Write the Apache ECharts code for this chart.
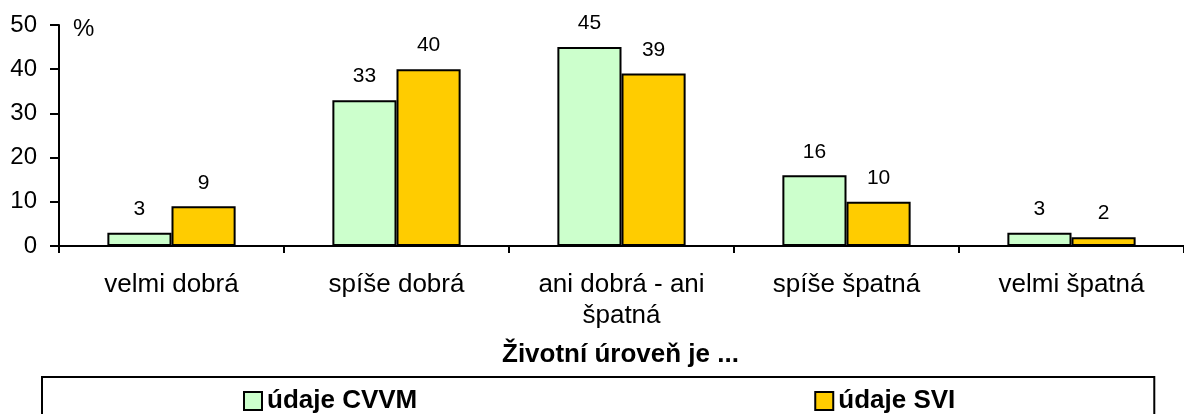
<!DOCTYPE html>
<html>
<head>
<meta charset="utf-8">
<script src="https://cdn.jsdelivr.net/npm/echarts@6/dist/echarts.min.js"></script>
<style>
  html, body { margin: 0; padding: 0; background: #fff; }
  #chart { width: 1184px; height: 414px; }
</style>
</head>
<body>
<div id="chart"></div>
<script>
// data
const categories = ['velmi dobrá', 'spíše dobrá', 'ani dobrá - ani\nšpatná', 'spíše špatná', 'velmi špatná'];
const cvvm = [3, 33, 45, 16, 3];
const svi = [9, 40, 39, 10, 2];
const seriesNames = ['údaje CVVM', 'údaje SVI'];

const font = 'Liberation Sans, Arial, sans-serif';

const barLabel = {
  show: true,
  position: 'top',
  distance: 13,
  color: '#000',
  fontSize: 21,
  fontFamily: font
};

const option = {
  animation: false,
  textStyle: { fontFamily: font, color: '#000' },
  title: {
    text: 'Životní úroveň je ...',
    left: 502,
    top: 342,
    padding: 0,
    textStyle: { fontSize: 26, fontWeight: 'bold', color: '#000', fontFamily: font }
  },
  legend: {
    left: 42,
    top: 377,
    orient: 'horizontal',
    padding: [11, 199, 20, 201],
    itemGap: 397,
    itemWidth: 18,
    itemHeight: 18,
    icon: 'rect',
    borderColor: '#000',
    borderWidth: 2,
    textStyle: { fontSize: 26, fontWeight: 'bold', color: '#000', fontFamily: font },
    data: seriesNames
  },
  grid: {
    left: 59,
    top: 25,
    width: 1131,
    bottom: 168,
    containLabel: false
  },
  xAxis: {
    type: 'category',
    data: categories,
    axisLine: { lineStyle: { color: '#000', width: 2 } },
    axisTick: { show: true, length: 7, lineStyle: { color: '#000', width: 2 } },
    axisLabel: {
      color: '#000',
      fontSize: 26,
      lineHeight: 31,
      margin: 23,
      fontFamily: font,
      interval: 0
    },
    splitLine: { show: false }
  },
  yAxis: {
    type: 'value',
    min: 0,
    max: 50,
    interval: 10,
    name: '%',
    nameLocation: 'end',
    nameGap: -4,
    nameTextStyle: {
      color: '#000',
      fontSize: 24,
      fontFamily: font,
      align: 'left',
      verticalAlign: 'middle',
      padding: [0, 0, 0, 14]
    },
    axisLine: { show: true, lineStyle: { color: '#000', width: 2 } },
    axisTick: { show: true, length: 9, lineStyle: { color: '#000', width: 2 } },
    axisLabel: { color: '#000', fontSize: 24, margin: 22, fontFamily: font },
    splitLine: { show: false }
  },
  series: [
    {
      name: seriesNames[0],
      type: 'bar',
      data: cvvm,
      barGap: '0%',
      barCategoryGap: '43%',
      itemStyle: { color: '#CCFFCC', borderColor: '#000', borderWidth: 2 },
      label: barLabel
    },
    {
      name: seriesNames[1],
      type: 'bar',
      data: svi,
      itemStyle: { color: '#FFCC00', borderColor: '#000', borderWidth: 2 },
      label: barLabel
    }
  ]
};

const chart = echarts.init(document.getElementById('chart'));
chart.setOption(option);
</script>
</body>
</html>
